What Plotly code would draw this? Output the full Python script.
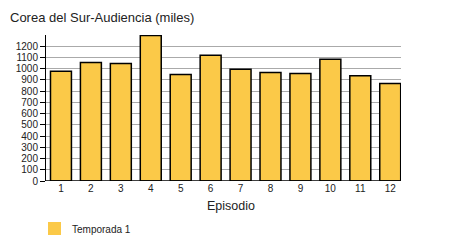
import plotly.graph_objects as go

episodes = [1, 2, 3, 4, 5, 6, 7, 8, 9, 10, 11, 12]
audience = [978, 1056, 1047, 1295, 949, 1119, 994, 967, 958, 1083, 937, 868]
series_name = "Temporada 1"
y_ticks = list(range(0, 1300, 100))

BAR = "#fbc948"
FONT = "Liberation Sans, Arial, sans-serif"

L, R, T, B = 46, 49, 35, 69
PW, PH = 450 - L - R, 250 - T - B


def px_x(p):
    return (p - L) / PW


def px_y(p):
    return (250 - B - p) / PH


fig = go.Figure()
fig.add_trace(go.Bar(
    x=episodes, y=audience, width=0.7,
    marker=dict(color=BAR, line=dict(color="#000000", width=1.5)),
    showlegend=False, name=series_name,
))

fig.update_layout(
    width=450, height=250,
    margin=dict(l=L, r=R, t=T, b=B),
    paper_bgcolor="white", plot_bgcolor="white",
    font=dict(family=FONT, color="#222222", size=10),
    title=dict(text="Corea del Sur-Audiencia (miles)", x=10/450, xanchor="left",
               y=1-17/250, yanchor="middle", font=dict(size=13, color="#222222")),
    showlegend=False,
    xaxis=dict(range=[0.5, 12.36], tickmode="array", tickvals=episodes,
               ticktext=[str(e) for e in episodes], showgrid=False, zeroline=False,
               showline=False, ticks="", tickfont=dict(size=10), automargin=False),
    yaxis=dict(range=[0, 1300], tickmode="array", tickvals=y_ticks,
               showgrid=True, gridcolor="#aaaaaa", gridwidth=1,
               zeroline=False, showline=True, linecolor="#000000", linewidth=1,
               ticks="outside", ticklen=5, tickcolor="#000000", tickfont=dict(size=10),
               automargin=False),
)
fig.add_shape(type="line", xref="paper", yref="y", x0=0, x1=1, y0=0, y1=0,
              line=dict(color="#000000", width=1.5))

# x-axis title
fig.add_annotation(text="Episodio", xref="paper", yref="paper", x=px_x(231), y=px_y(206),
                   xanchor="center", yanchor="middle", showarrow=False,
                   font=dict(size=12.5, color="#222222"))

# legend
fig.add_shape(type="rect", xref="paper", yref="paper",
              x0=px_x(48), x1=px_x(61), y0=px_y(222), y1=px_y(235),
              fillcolor=BAR, line=dict(width=0))
fig.add_annotation(text=series_name, xref="paper", yref="paper", x=px_x(70), y=px_y(229),
                   xanchor="left", yanchor="middle", showarrow=False,
                   font=dict(size=10, color="#222222"))

fig.write_html("out.html")
